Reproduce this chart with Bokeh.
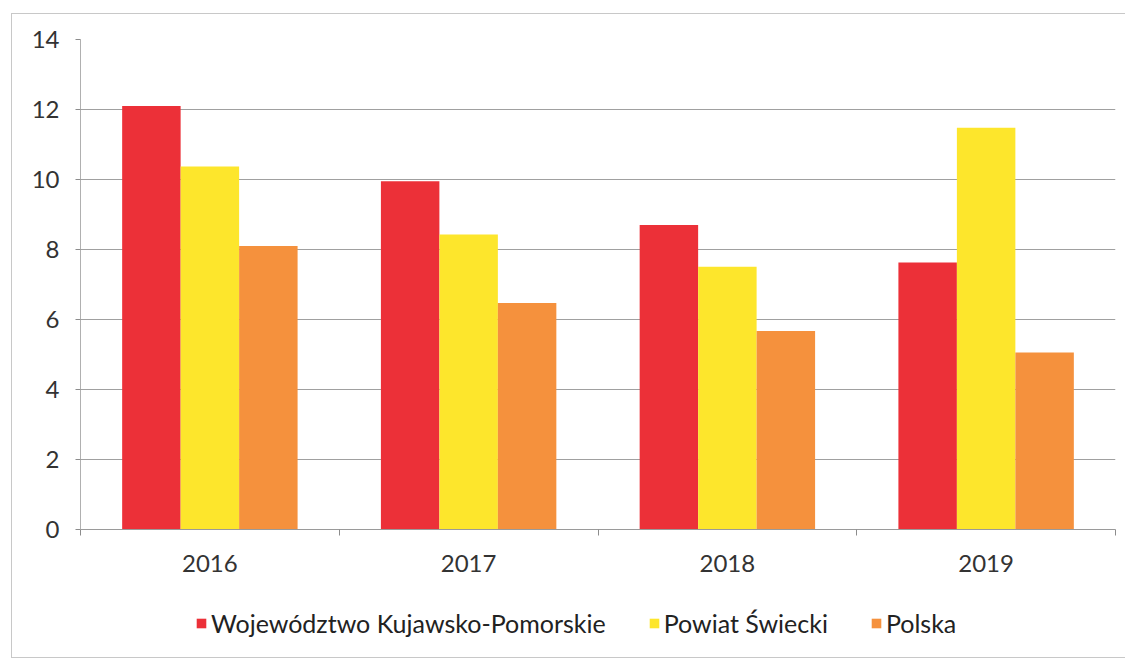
from bokeh.plotting import figure
from bokeh.layouts import column
from bokeh.models import ColumnDataSource, FixedTicker, Legend, LegendItem, Range1d
from bokeh.embed import file_html
from bokeh.resources import INLINE

years = ["2016", "2017", "2018", "2019"]
series_names = ["Województwo Kujawsko-Pomorskie", "Powiat Świecki", "Polska"]
woj = [12.1, 9.95, 8.7, 7.63]
powiat = [10.37, 8.43, 7.51, 11.48]
polska = [8.1, 6.47, 5.67, 5.06]
colors = ["#EC3038", "#FDE62C", "#F5913D"]

FONT = "Lato"
p = figure(width=1113, height=575, output_backend="svg", toolbar_location=None,
           x_range=Range1d(0, len(years)), y_range=Range1d(0, 14),
           min_border_left=68, min_border_right=10, min_border_top=25, min_border_bottom=60)
p.outline_line_color = None
p.background_fill_color = "white"

bw = 0.226
for k, (vals, col) in enumerate(zip([woj, powiat, polska], colors)):
    xs = [i + 0.5 + (k - 1) * bw for i in range(len(years))]
    src = ColumnDataSource(dict(x=xs, top=vals))
    p.vbar(x="x", top="top", width=bw, bottom=0, source=src,
           fill_color=col, line_color=None)

# axes
p.xaxis.ticker = FixedTicker(ticks=[i + 0.5 for i in range(len(years))],
                             minor_ticks=[float(i) for i in range(len(years) + 1)])
p.xaxis.major_label_overrides = {i + 0.5: y for i, y in enumerate(years)}
p.xaxis.major_tick_line_color = None
p.xaxis.major_tick_out = 0
p.xaxis.minor_tick_line_color = "#8c8c8c"
p.xaxis.minor_tick_out = 6
p.xaxis.minor_tick_in = 0
p.xaxis.axis_line_color = "#9a9a9a"
p.xaxis.major_label_standoff = 19
p.xaxis.major_label_text_font = FONT
p.xaxis.major_label_text_font_size = "24px"
p.xaxis.major_label_text_color = "#333333"

p.yaxis.ticker = FixedTicker(ticks=[0, 2, 4, 6, 8, 10, 12, 14])
p.yaxis.minor_tick_line_color = None
p.yaxis.major_tick_out = 5
p.yaxis.major_tick_in = 0
p.yaxis.major_tick_line_color = "#8c8c8c"
p.yaxis.axis_line_color = "#b0b0b0"
p.yaxis.major_label_standoff = 16
p.yaxis.major_label_text_font = FONT
p.yaxis.major_label_text_font_size = "24px"
p.yaxis.major_label_text_color = "#333333"

p.xgrid.grid_line_color = None
p.ygrid.grid_line_color = "#a0a0a0"
p.ygrid.grid_line_width = 1

# legend strip below the chart (swatch renderers sit outside the visible range)
lf = figure(width=1113, height=68, output_backend="svg", toolbar_location=None,
            x_range=Range1d(0, 1), y_range=Range1d(0, 1), min_border=0)
lf.axis.visible = False
lf.grid.visible = False
lf.outline_line_color = None
items = []
for name, col in zip(series_names, colors):
    r = lf.vbar(x=[-5], top=[-5], bottom=[-6], width=0.1, fill_color=col, line_color=None)
    items.append(LegendItem(label=name, renderers=[r]))
legend = Legend(items=items, orientation="horizontal", location=(115, 19),
                label_text_font=FONT, label_text_font_size="25px",
                label_text_color="#222222", glyph_width=12, glyph_height=12,
                label_standoff=4, spacing=42, border_line_color=None,
                background_fill_alpha=0, margin=0, padding=6)
lf.add_layout(legend, "center")

layout = column(p, lf, spacing=0,
                styles={"border": "1px solid #c8c8c8", "border-right": "none",
                        "margin-left": "11px", "margin-top": "13px"})

open("out.html", "w").write(file_html(layout, INLINE))
